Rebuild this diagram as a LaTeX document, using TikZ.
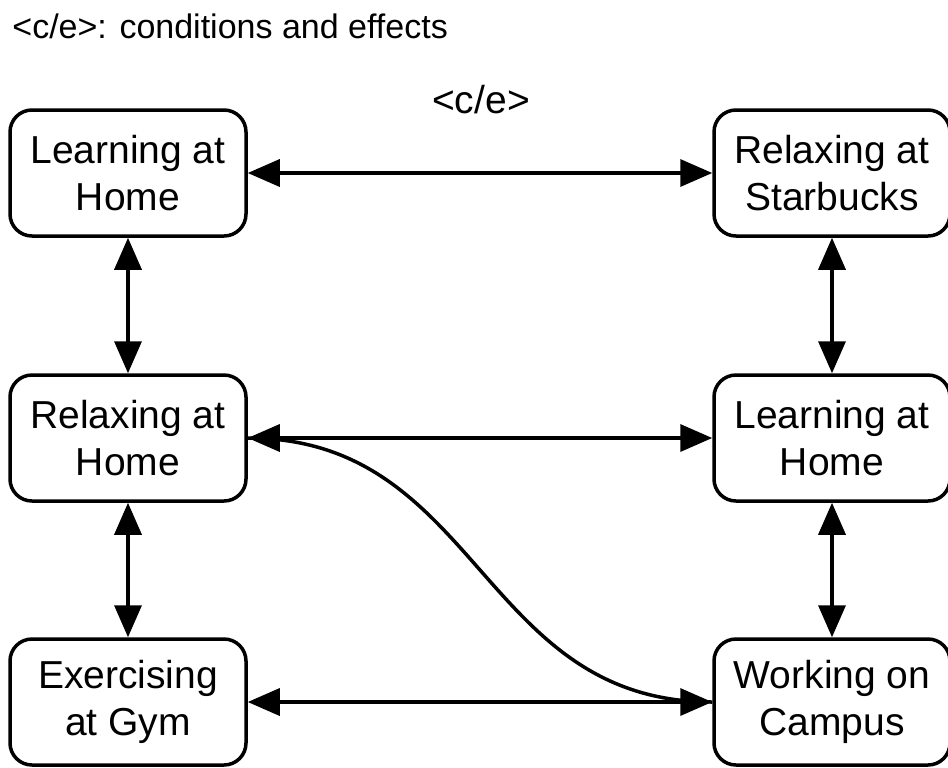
\documentclass[tikz,border=0pt]{standalone}
\usepackage{fontspec}
\setmainfont{Liberation Sans}
\usetikzlibrary{arrows.meta}
\tikzset{
	place/.style={draw, line width=1.75pt, rounded corners=11pt, minimum width=118pt, minimum height=63pt, inner sep=0pt, align=center, font=\fontsize{19.5}{23.5}\selectfont},
	link/.style={line width=1.75pt, {Triangle[length=16pt,width=13.5pt]}-{Triangle[length=16pt,width=13.5pt]}}
}

\begin{document}
\begin{tikzpicture}[x=0.5pt, y=-0.5pt]
			%%%%% START %%%%%
			\useasboundingbox (0, 0) rectangle (948, 767);
			
			\node[anchor=west, inner sep=0pt, font=\fontsize{17}{20}\selectfont] (legend) at (12, 26) {<c/e>: conditions and effects};
			\node[inner sep=0pt, font=\fontsize{19.5}{22}\selectfont] (ce) at (481, 100) {<c/e>};
			
			\node[place] (learnhome) at (128, 173) {Learning at\\Home};
			\node[place] (relaxhome) at (128, 438) {Relaxing at\\Home};
			\node[place] (gym) at (128, 702) {Exercising\\at Gym};
			
			\node[place] (starbucks) at (832, 173) {Relaxing at\\Starbucks};
			\node[place] (learnhome2) at (832, 438) {Learning at\\Home};
			\node[place] (campus) at (832, 702) {Working on\\Campus};
			
			\draw[link] (learnhome) -- (starbucks);
			\draw[link] (relaxhome) -- (learnhome2);
			\draw[link] (gym) -- (campus);
			
			\draw[link] (learnhome) -- (relaxhome);
			\draw[link] (relaxhome) -- (gym);
			\draw[link] (starbucks) -- (learnhome2);
			\draw[link] (learnhome2) -- (campus);
			
			\draw[line width=1.75pt] (relaxhome.east) .. controls (480, 438) and (480, 702) .. (campus.west);
			
			%%%%% END %%%%%
\end{tikzpicture}
\end{document}
